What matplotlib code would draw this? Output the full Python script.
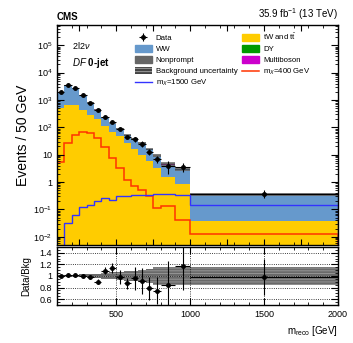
import numpy as np
import matplotlib
matplotlib.use("Agg")
import matplotlib.pyplot as plt
from matplotlib.patches import Patch
from matplotlib.lines import Line2D
from matplotlib.ticker import FixedLocator, LogLocator, NullFormatter, MultipleLocator

plt.rcParams['font.family'] = ['Liberation Sans', 'DejaVu Sans']
plt.rcParams['mathtext.fontset'] = 'custom'
plt.rcParams['mathtext.rm'] = 'Liberation Sans'
plt.rcParams['mathtext.it'] = 'Liberation Sans:italic'
plt.rcParams['hatch.linewidth'] = 0.6

# bin edges (GeV), contents are events / 50 GeV
edges = [100, 150, 200, 250, 300, 350, 400, 450, 500, 550, 600, 650, 700, 750, 800, 900, 1000, 2000]

data = [1900, 3470, 2750, 1510, 790, 415, 245, 155, 87, 46, 36, 24.6, 12.9, 6.9, 3.9, 3.6, 0.38]
data_err = [38, 69, 55, 38, 25, 18, 13.5, 11, 10, 5, 7.5, 6, 3.2, 2.1, 1.9, 1.3, 0.12]

top_tw = [520, 640, 650, 440, 285, 200, 115, 68, 48, 27, 16, 10, 6, 3.3, 1.5, 0.85, 0.038]
ww = [1265, 2675, 1988, 1020, 492, 243, 99.5, 62.7, 38, 24, 19.7, 15.7, 9.5, 5.5, 2.8, 2.05, 0.30]
dy = [60, 40, 20, 10, 5, 3, 2, 1, 0.6, 0.4, 0.3, 0.2, 0.15, 0.1, 0.06, 0.05, 0.005]
multiboson = [15, 25, 22, 15, 9, 6, 3.5, 2.3, 1.5, 1, 0.7, 0.5, 0.3, 0.2, 0.1, 0.08, 0.01]
nonprompt = [40, 50, 40, 25, 15, 9, 5, 3, 2, 1.2, 0.8, 0.5, 0.3, 0.2, 0.1, 0.06, 0.005]
bkg_unc = [0.02, 0.02, 0.02, 0.025, 0.03, 0.04, 0.05, 0.06, 0.07, 0.08, 0.09, 0.1, 0.12, 0.15, 0.16, 0.16, 0.15]

sig400 = [5.6, 26, 52, 69, 63, 40, 19.6, 7.4, 3.2, 1.2, 0.72, 0.51, 0.32, 0.11, 0.135, 0.042, 0.0126]
sig1500 = [0.001, 0.032, 0.063, 0.125, 0.148, 0.195, 0.26, 0.224, 0.30, 0.31, 0.33, 0.35, 0.35, 0.36, 0.36, 0.35, 0.148]

ratio = [1.0, 1.01, 1.01, 1.0, 0.98, 0.90, 1.09, 1.135, 0.98, 0.87, 0.96, 0.915, 0.79, 0.745, 0.85, 1.17, 0.98]
ratio_err = [0.02, 0.02, 0.02, 0.025, 0.03, 0.045, 0.06, 0.08, 0.12, 0.1, 0.2, 0.22, 0.2, 0.23, 0.41, 0.42, 0.31]

edges = np.array(edges, dtype=float)
centers = 0.5 * (edges[1:] + edges[:-1])
halfw = 0.5 * (edges[1:] - edges[:-1])

stack = [
    (top_tw, '#ffcc00'),
    (ww, '#6699cc'),
    (dy, '#009900'),
    (multiboson, '#cc00cc'),
    (nonprompt, '#666666'),
]

fig = plt.figure(figsize=(3.53, 3.43), dpi=100)
ax = fig.add_axes([0.1615, 0.2857, 0.796, 0.6414])
rax = fig.add_axes([0.1615, 0.111, 0.796, 0.169])

# stacked backgrounds
base = np.full(len(centers), 1e-6)
for vals, col in stack:
    v = np.array(vals)
    ax.stairs(base + v, edges, baseline=base, fill=True, color=col, linewidth=0)
    base = base + v
total = base

up = total * (1 + np.array(bkg_unc))
dn = total * (1 - np.array(bkg_unc))
ax.stairs(up, edges, baseline=dn, fill=True, facecolor='#333333', alpha=0.75,
          edgecolor='#999999', hatch='------', linewidth=0)

ax.stairs(sig400, edges, color='#ff3300', linewidth=1.1)
ax.stairs(sig1500, edges, color='#3333ff', linewidth=1.0)

ax.errorbar(centers, data, xerr=halfw, yerr=data_err, fmt='o', color='black',
            markersize=2.5, elinewidth=0.8, capsize=0)

ax.set_yscale('log')
ax.set_xlim(100, 2000)
ax.set_ylim(5e-3, 5.5e5)
ax.set_xticklabels([])
ax.yaxis.set_major_locator(FixedLocator([1e-2, 1e-1, 1, 10, 1e2, 1e3, 1e4, 1e5]))
ax.set_yticklabels([r'$10^{-2}$', r'$10^{-1}$', '1', '10', r'$10^{2}$', r'$10^{3}$', r'$10^{4}$', r'$10^{5}$'])
ax.yaxis.set_minor_locator(LogLocator(base=10, subs=np.arange(2, 10), numticks=20))
ax.yaxis.set_minor_formatter(NullFormatter())
ax.set_ylabel('Events / 50 GeV', fontsize=10, labelpad=2)

# ratio panel
rup = 1 + np.array(bkg_unc)
rdn = 1 - np.array(bkg_unc)
rax.stairs(rup, edges, baseline=rdn, fill=True, facecolor='#444444', alpha=0.8,
           edgecolor='#aaaaaa', hatch='------', linewidth=0)
rax.errorbar(centers, ratio, xerr=halfw, yerr=ratio_err, fmt='o', color='black',
             markersize=2.5, elinewidth=0.8, capsize=0)
rax.set_xlim(100, 2000)
rax.set_ylim(0.5, 1.5)
rax.set_yticks([0.6, 0.8, 1.0, 1.2, 1.4])
rax.set_yticklabels(['0.6', '0.8', '1', '1.2', '1.4'])
rax.yaxis.set_minor_locator(MultipleLocator(0.05))
rax.set_xticks([500, 1000, 1500, 2000])
rax.grid(True, which='major', linestyle=':', color='black', linewidth=0.6)
rax.set_ylabel('Data/Bkg', fontsize=7, labelpad=6)
rax.set_xlabel(r'm$_{\mathrm{reco}}$ [GeV]', fontsize=7, loc='right', labelpad=4)

for a in (ax, rax):
    a.xaxis.set_minor_locator(MultipleLocator(100))
    a.tick_params(which='both', direction='in', top=True, right=True, labelsize=6.5)
    a.tick_params(which='major', length=5, width=0.8)
    a.tick_params(which='minor', length=2.5, width=0.6)
    for s in a.spines.values():
        s.set_linewidth(1.0)
ax.tick_params(axis='x', which='major', length=4)

fig.text(0.1615, 0.935, 'CMS', fontsize=7, fontweight='bold', ha='left', va='bottom')
fig.text(0.9575, 0.935, r'35.9 fb$^{-1}$ (13 TeV)', fontsize=7, ha='right', va='bottom')
ax.text(0.055, 0.93, r'2l2$\nu$', transform=ax.transAxes, fontsize=6.5, ha='left', va='top')
ax.text(0.055, 0.86, r'$\bf{\it{DF}}$ 0-jet', transform=ax.transAxes, fontsize=7,
        fontweight='bold', ha='left', va='top')

band_handle = Patch(facecolor='#444444', edgecolor='#aaaaaa', hatch='-----', linewidth=0)
data_handle = ax.errorbar([], [], xerr=[], yerr=[], fmt='o', color='black', markersize=2.5, elinewidth=0.8)
handles = [
    data_handle,
    Patch(color='#6699cc'),
    Patch(color='#666666'),
    band_handle,
    Line2D([], [], color='#3333ff', linewidth=1.0),
    Patch(color='#ffcc00'),
    Patch(color='#009900'),
    Patch(color='#cc00cc'),
    Line2D([], [], color='#ff3300', linewidth=1.1),
]
labels = ['Data', 'WW', 'Nonprompt', 'Background uncertainty', r'm$_X$=1500 GeV',
          r'tW and t$\bar{\mathrm{t}}$', 'DY', 'Multiboson', r'm$_X$=400 GeV']
ax.legend(handles, labels, ncol=2, fontsize=5.6, frameon=False, loc='upper left',
          bbox_to_anchor=(0.26, 0.99), handlelength=2.2, handleheight=1.0,
          labelspacing=0.35, columnspacing=0.6, handletextpad=0.5, borderaxespad=0.2)

fig.savefig('out.png', dpi=100)
